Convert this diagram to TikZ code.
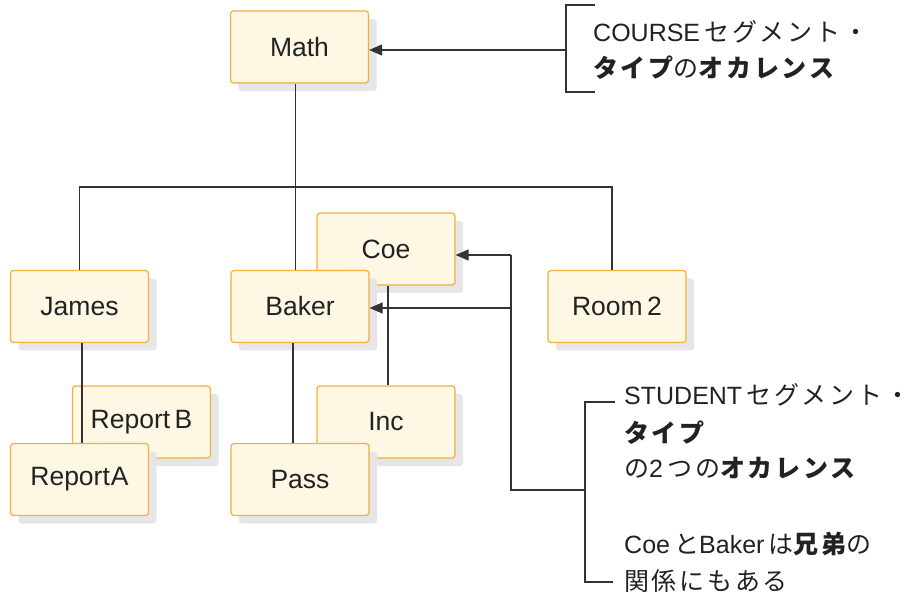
\documentclass[tikz,border=0pt]{standalone}
\usepackage{fontspec}
\setmainfont{Liberation Sans}
\newfontfamily\jp{Noto Sans CJK JP}[LetterSpace=11]
\usetikzlibrary{arrows.meta,shadows}
\definecolor{boxfill}{HTML}{FDF7E4}
\definecolor{boxborder}{HTML}{F2B03C}
\definecolor{shadowcol}{HTML}{E6E6E9}
\definecolor{linecol}{HTML}{333333}
\definecolor{textcol}{HTML}{222222}
\tikzset{
  nbox/.style={draw=boxborder, fill=boxfill, line width=1.2pt, rounded corners=3pt,
    minimum width=138pt, minimum height=72pt, inner sep=0pt,
    font=\fontsize{26.5}{30}\selectfont, text=textcol,
    drop shadow={shadow xshift=8pt, shadow yshift=-8pt, fill=shadowcol, opacity=1}},
  conn/.style={draw=linecol, line width=1.1pt},
  arr/.style={conn, -{Triangle[length=13pt,width=11pt]}},
  lbl/.style={anchor=base west, inner sep=0pt, font=\fontsize{25}{29}\selectfont, text=textcol}
}
\begin{document}
\begin{tikzpicture}[x=1pt,y=-1pt]
\useasboundingbox (0,0) rectangle (914,596);
% nodes
\node[nbox] (math) at (299.5,47) {Math};
\node[nbox] (coe) at (386,249) {Coe};
\node[nbox] (james) at (79.5,306.5) {James};
\node[nbox] (baker) at (300,306.5) {Baker};
\node[nbox] (room) at (617,306.5) {Room\,2};
\node[nbox] (reportb) at (141.5,422) {Report\,B};
\node[nbox] (inc) at (386,422) {Inc};
% coordinates
\coordinate (hr) at (612,187);
\coordinate (cb) at (566,50);
\coordinate (sj) at (511,490);
\coordinate (sb) at (585,490);
\coordinate (ca) at (511,255);
\coordinate (ba) at (511,308);
\coordinate (jb) at (82,443);
% line from James runs over Report B and under Report A
\draw[conn] (james.south -| jb) -- (jb);
\node[nbox] (reporta) at (79.5,479.5) {Report\kern1pt A};
\node[nbox] (pass) at (300,479.5) {Pass};
% tree
\draw[conn] ([xshift=-4pt]math.south) -- ([xshift=-4pt]math.south |- baker.north);
\draw[conn] (james.north) |- (hr) -- (hr |- room.north);
\draw[conn] ([xshift=-7pt]baker.south) -- ([xshift=-7pt]pass.north);
\draw[conn] ([xshift=2pt]coe.south) -- ([xshift=2pt]inc.north);
% COURSE bracket
\draw[conn] (595,5) -- (566,5) -- (566,92) -- (595,92);
\draw[arr] (cb) -- (cb -| math.east);
% STUDENT bracket
\draw[conn] (615,402) -- (585,402) -- (585,582) -- (613,582);
\draw[conn] (sb) -- (sj) -- (ca);
\draw[arr] (ca) -- (ca -| coe.east);
\draw[arr] (ba) -- (ba -| baker.east);
% labels
\node[lbl] (l1) at (593,42) {COURSE\,{\jp セグメント・}};
\node[lbl] (l2) at (593,78) {{\jp\bfseries タイプ}{\jp の}{\jp\bfseries オカレンス}};
\node[lbl] (s1) at (624,405) {STUDENT\,{\jp セグメント・}};
\node[lbl] (s2) at (624,442) {{\jp\bfseries タイプ}};
\node[lbl] (s3) at (624,477) {{\jp の}2\,{\jp つの}{\jp\bfseries オカレンス}};
\node[lbl] (s4) at (624,553) {Coe\,{\jp と}Baker\,{\jp は}{\jp\bfseries 兄弟}{\jp の}};
\node[lbl] (s5) at (624,590) {{\jp 関係にもある}};
\end{tikzpicture}
\end{document}
